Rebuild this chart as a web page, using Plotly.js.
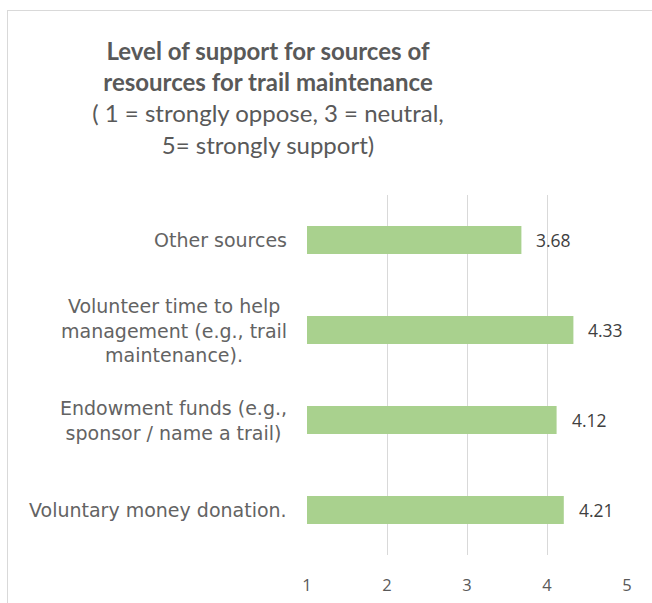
<!DOCTYPE html>
<html>
<head>
<meta charset="utf-8">
<script src="https://cdn.plot.ly/plotly-3.0.1.min.js"></script>
<style>
html,body{margin:0;padding:0;background:#fff;}
#wrap{position:relative;width:652px;height:603px;}
#frame{position:absolute;left:7px;top:10px;width:660px;height:620px;border-top:1.5px solid #d9d9d9;border-left:1.5px solid #d9d9d9;pointer-events:none;box-sizing:border-box;}
</style>
</head>
<body>
<div id="wrap">
<div id="chart" style="width:652px;height:603px;"></div>
<div id="frame"></div>
</div>
<script>
const categories = [
  "Voluntary money donation.",
  "Endowment funds (e.g.,<br>sponsor / name a trail)",
  "Volunteer time to help<br>management (e.g., trail<br>maintenance).",
  "Other sources"
];
const values = [4.21, 4.12, 4.33, 3.68];
const valueLabels = ["4.21", "4.12", "4.33", "3.68"];
const tickValues = [1, 2, 3, 4, 5];
const tickLabels = ["1", "2", "3", "4", "5"];

const W = 652, H = 603;
const L = 307, R = 25, T = 195, B = 48;
const pw = W - L - R, ph = H - T - B;
const px = v => (v - L) / pw;

const catFont = {family: "'DejaVu Sans', sans-serif", size: 19, color: "#636363"};
const numFont = {family: "'Open Sans', 'Noto Sans', sans-serif", size: 17.5, color: "#404040"};

const annotations = [];
categories.forEach((c, i) => {
  annotations.push({
    x: px(289), xref: "paper", xanchor: "right",
    y: c, yref: "y", yanchor: "middle",
    text: c, showarrow: false, align: "center",
    font: catFont
  });
  annotations.push({
    x: values[i], xref: "x", xanchor: "left", xshift: 13,
    y: c, yref: "y", yanchor: "middle",
    text: valueLabels[i], showarrow: false,
    font: numFont
  });
});

const data = [{
  type: "bar",
  orientation: "h",
  y: categories,
  x: values.map(v => v - 1),
  base: 1,
  marker: {color: "#a9d18e"},
  hoverinfo: "none"
}];

const layout = {
  width: W, height: H,
  margin: {l: L, r: R, t: T, b: B, pad: 0},
  paper_bgcolor: "#ffffff",
  plot_bgcolor: "#ffffff",
  showlegend: false,
  bargap: 0.69,
  title: {
    text: "<b>Level of support for sources of<br>resources for trail maintenance</b><br>( 1 = strongly oppose, 3 = neutral,<br>5= strongly support)",
    font: {family: "Lato, 'Noto Sans', sans-serif", size: 24, color: "#595959"},
    xref: "container", x: 268 / W, xanchor: "center",
    yref: "container", y: 1 - 60 / H, yanchor: "top"
  },
  xaxis: {
    range: [1, 5],
    tickvals: tickValues,
    ticktext: tickLabels,
    showgrid: true, gridcolor: "#d9d9d9", gridwidth: 1,
    zeroline: false, showline: false,
    ticks: "", ticklabelstandoff: 18,
    tickfont: {family: "'Open Sans', 'Noto Sans', sans-serif", size: 16.5, color: "#595959"},
    fixedrange: true
  },
  yaxis: {
    type: "category",
    categoryorder: "array", categoryarray: categories,
    showticklabels: false, showgrid: false, zeroline: false, showline: false,
    ticks: "", fixedrange: true
  },
  annotations: annotations
};

Plotly.newPlot("chart", data, layout, {displayModeBar: false, staticPlot: true});
</script>
</body>
</html>
